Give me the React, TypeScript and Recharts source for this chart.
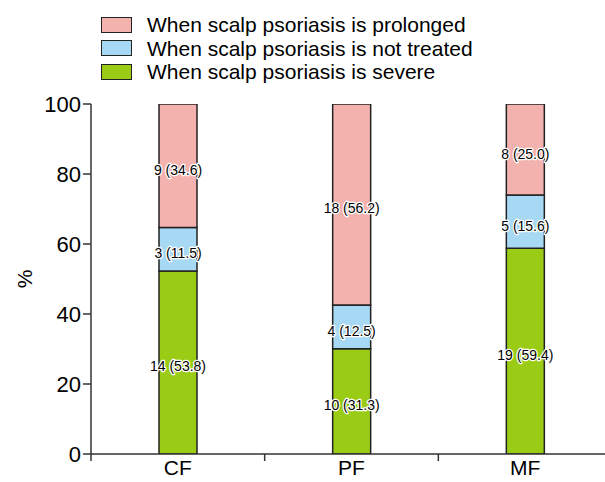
import React from 'react';
import { BarChart, Bar, XAxis, YAxis, Legend, LabelList, Label } from 'recharts';

const categories = ['CF', 'PF', 'MF'];
// bar segment heights (%) as drawn
const severeValues = [52.3, 30.1, 58.8];
const notTreatedValues = [12.4, 12.5, 15.2];
const prolongedValues = [35.3, 57.4, 26.0];
// label texts: counts and percentages
const severeCounts = [14, 10, 19];
const severePct = [53.8, 31.3, 59.4];
const notTreatedCounts = [3, 4, 5];
const notTreatedPct = [11.5, 12.5, 15.6];
const prolongedCounts = [9, 18, 8];
const prolongedPct = [34.6, 56.2, 25.0];
const yTicks = [0, 20, 40, 60, 80, 100];
const legendItems = [
  { name: 'When scalp psoriasis is prolonged', color: '#F4B2AF' },
  { name: 'When scalp psoriasis is not treated', color: '#A8D9F4' },
  { name: 'When scalp psoriasis is severe', color: '#9BCC15' },
];

const data = categories.map((c, i) => ({
  pos: i + 0.5,
  name: c,
  severe: severeValues[i],
  notTreated: notTreatedValues[i],
  prolonged: prolongedValues[i],
}));

const xTicks = [0, 0.5, 1, 1.5, 2, 2.5, 3];
const FONT = "Arial, 'Liberation Sans', Helvetica, sans-serif";
const AXIS = '#333';

const makeLabel = (counts: number[], pcts: number[]) => (props: any) => {
  const { x, y, width, height, index } = props;
  return (
    <text
      x={Number(x) + Number(width) / 2}
      y={Number(y) + Number(height) / 2 + 4}
      textAnchor="middle"
      dominantBaseline="central"
      fontSize={14}
      fontFamily={FONT}
      fill="#000"
      stroke="#fff"
      strokeWidth={2.5}
      strokeLinejoin="round"
      paintOrder="stroke"
    >
      {`${counts[index]} (${pcts[index].toFixed(1)})`}
    </text>
  );
};

const XTick = (props: any) => {
  const { x, y, payload } = props;
  const v = payload.value;
  if (Number.isInteger(v)) {
    return <line x1={x} x2={x} y1={y} y2={y + 7} stroke={AXIS} strokeWidth={1.5} />;
  }
  const idx = Math.round(v - 0.5);
  return (
    <text x={x} y={y + 6} dy="0.71em" textAnchor="middle" fontSize={21} fontFamily={FONT} fill="#000">
      {categories[idx]}
    </text>
  );
};

const renderLegend = () => (
  <div style={{ fontFamily: FONT, fontSize: 21, color: '#000', lineHeight: '23.5px' }}>
    {legendItems.map((it) => (
      <div key={it.name} style={{ display: 'flex', alignItems: 'center', height: 23.5 }}>
        <span
          style={{
            display: 'inline-block',
            width: 29,
            height: 14,
            background: it.color,
            border: '1.5px solid #222',
            marginRight: 15,
          }}
        />
        <span>{it.name}</span>
      </div>
    ))}
  </div>
);

export default function App() {
  return (
    <div style={{ position: 'absolute', left: 0, top: 0, width: 605, height: 482, overflow: 'hidden', background: '#fff' }}>
      <BarChart
        width={640}
        height={500}
        data={data}
        margin={{ top: 104, right: 28, bottom: 16, left: 0 }}
      >
        <XAxis
          dataKey="pos"
          type="number"
          domain={[0, 3]}
          ticks={xTicks}
          tick={<XTick />}
          tickLine={false}
          tickSize={0}
          tickMargin={0}
          interval={0}
          height={30}
          axisLine={{ stroke: AXIS, strokeWidth: 1.5 }}
          allowDataOverflow
        />
        <YAxis
          type="number"
          domain={[0, 100]}
          ticks={yTicks}
          width={91}
          tickSize={8}
          tickMargin={2}
          axisLine={{ stroke: AXIS, strokeWidth: 1.5 }}
          tickLine={{ stroke: AXIS, strokeWidth: 1.5 }}
          tick={{ fontSize: 22, fontFamily: FONT, fill: '#000' }}
          allowDataOverflow
        >
          <Label
            content={(p: any) => {
              const vb = p.viewBox || {};
              const cy = (vb.y ?? 104) + (vb.height ?? 351) / 2;
              return (
                <text
                  x={24}
                  y={cy}
                  transform={`rotate(-90 24 ${cy})`}
                  textAnchor="middle"
                  dominantBaseline="central"
                  fontSize={21}
                  fontFamily={FONT}
                  fill="#000"
                >
                  %
                </text>
              );
            }}
          />
        </YAxis>
        <Legend
          content={renderLegend}
          layout="horizontal"
          verticalAlign="middle"
          align="center"
          wrapperStyle={{ top: 13, left: 101, width: 'auto' }}
        />
        <Bar dataKey="severe" stackId="a" fill="#9BCC15" stroke="#222" strokeWidth={1.5} barSize={38} isAnimationActive={false}>
          <LabelList content={makeLabel(severeCounts, severePct)} />
        </Bar>
        <Bar dataKey="notTreated" stackId="a" fill="#A8D9F4" stroke="#222" strokeWidth={1.5} barSize={38} isAnimationActive={false}>
          <LabelList content={makeLabel(notTreatedCounts, notTreatedPct)} />
        </Bar>
        <Bar dataKey="prolonged" stackId="a" fill="#F4B2AF" stroke="#222" strokeWidth={1.5} barSize={38} isAnimationActive={false}>
          <LabelList content={makeLabel(prolongedCounts, prolongedPct)} />
        </Bar>
      </BarChart>
    </div>
  );
}
